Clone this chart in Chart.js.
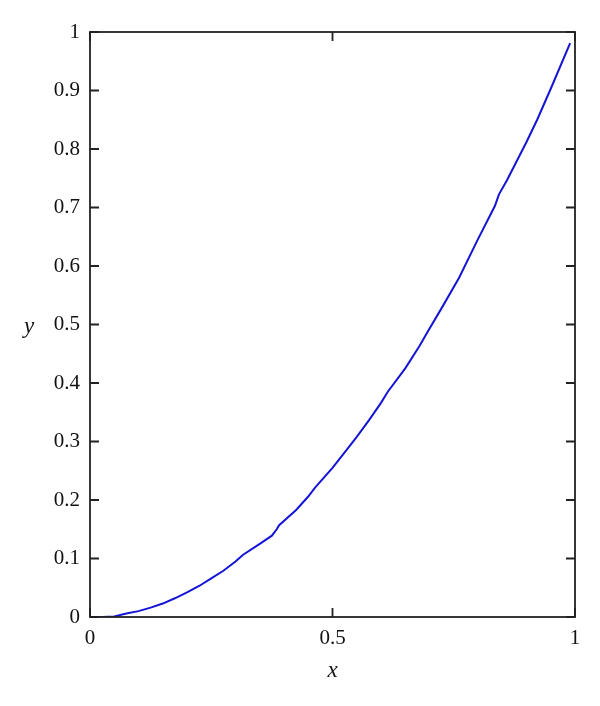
<!DOCTYPE html>
<html>
<head>
<meta charset="utf-8">
<script src="https://cdn.jsdelivr.net/npm/chart.js@4"></script>
<style>
  html, body { margin: 0; padding: 0; background: #fff; }
  #wrap { width: 600px; height: 706px; }
</style>
</head>
<body>
<div id="wrap"><canvas id="chart" width="600" height="706"></canvas></div>
<script>
// curve samples
const xValues = [0, 0.025, 0.05, 0.075, 0.1, 0.125, 0.15, 0.175, 0.2, 0.225, 0.25, 0.275, 0.3, 0.315, 0.35, 0.375, 0.385, 0.39, 0.425, 0.45, 0.464, 0.5, 0.534, 0.55, 0.575, 0.6, 0.614, 0.65, 0.68, 0.695, 0.725, 0.761, 0.8, 0.835, 0.843, 0.86, 0.9, 0.922, 0.95, 0.99];
const yValues = [0, 0, 0.001, 0.006, 0.010, 0.016, 0.023, 0.032, 0.042, 0.053, 0.066, 0.079, 0.095, 0.106, 0.125, 0.139, 0.150, 0.157, 0.183, 0.206, 0.221, 0.255, 0.291, 0.308, 0.336, 0.366, 0.385, 0.425, 0.464, 0.486, 0.528, 0.580, 0.646, 0.703, 0.722, 0.747, 0.812, 0.850, 0.903, 0.981];

const xTicks = [0, 0.5, 1];
const yTicks = [0, 0.1, 0.2, 0.3, 0.4, 0.5, 0.6, 0.7, 0.8, 0.9, 1];

const FONT = '"Liberation Serif", "DejaVu Serif", serif';

// box + inward ticks on all four sides, plus the axis letters
const boxPlugin = {
    id: 'box',
    afterDraw(chart) {
        const { ctx, chartArea: a, scales } = chart;
        const len = 9;
        ctx.save();
        ctx.strokeStyle = '#222';
        ctx.lineWidth = 1.8;
        ctx.strokeRect(a.left, a.top, a.right - a.left, a.bottom - a.top);
        ctx.beginPath();
        xTicks.forEach(v => {
            const px = scales.x.getPixelForValue(v);
            ctx.moveTo(px, a.bottom); ctx.lineTo(px, a.bottom - len);
            ctx.moveTo(px, a.top); ctx.lineTo(px, a.top + len);
        });
        yTicks.forEach(v => {
            const py = scales.y.getPixelForValue(v);
            ctx.moveTo(a.left, py); ctx.lineTo(a.left + len, py);
            ctx.moveTo(a.right, py); ctx.lineTo(a.right - len, py);
        });
        ctx.stroke();

        ctx.fillStyle = '#111';
        ctx.font = 'italic 23px ' + FONT;
        ctx.textAlign = 'center';
        ctx.textBaseline = 'middle';
        ctx.fillText('y', 29, (a.top + a.bottom) / 2 + 2);
        ctx.fillText('x', (a.left + a.right) / 2, 671);
        ctx.restore();
    }
};

new Chart(document.getElementById('chart'), {
    type: 'scatter',
    data: {
        datasets: [{
            data: xValues.map((x, i) => ({ x: x, y: yValues[i] })),
            showLine: true,
            borderColor: 'rgb(20, 20, 215)',
            borderWidth: 2,
            pointRadius: 0,
            tension: 0
        }]
    },
    options: {
        responsive: false,
        animation: false,
        layout: { padding: { left: 0, top: 32, right: 25, bottom: 0 } },
        plugins: { legend: { display: false }, tooltip: { enabled: false } },
        scales: {
            x: {
                type: 'linear',
                min: 0, max: 1,
                afterBuildTicks: s => { s.ticks = xTicks.map(v => ({ value: v })); },
                afterFit: s => { s.height = 89; },
                grid: { display: false, drawTicks: false },
                border: { display: false },
                ticks: {
                    padding: 9,
                    color: '#111',
                    font: { family: FONT, size: 21 },
                    maxRotation: 0,
                    callback: v => String(v)
                }
            },
            y: {
                min: 0, max: 1,
                afterBuildTicks: s => { s.ticks = yTicks.map(v => ({ value: v })); },
                afterFit: s => { s.width = 90; },
                grid: { display: false, drawTicks: false },
                border: { display: false },
                ticks: {
                    padding: 10,
                    color: '#111',
                    font: { family: FONT, size: 21 },
                    callback: v => String(v)
                }
            }
        }
    },
    plugins: [boxPlugin]
});
</script>
</body>
</html>
